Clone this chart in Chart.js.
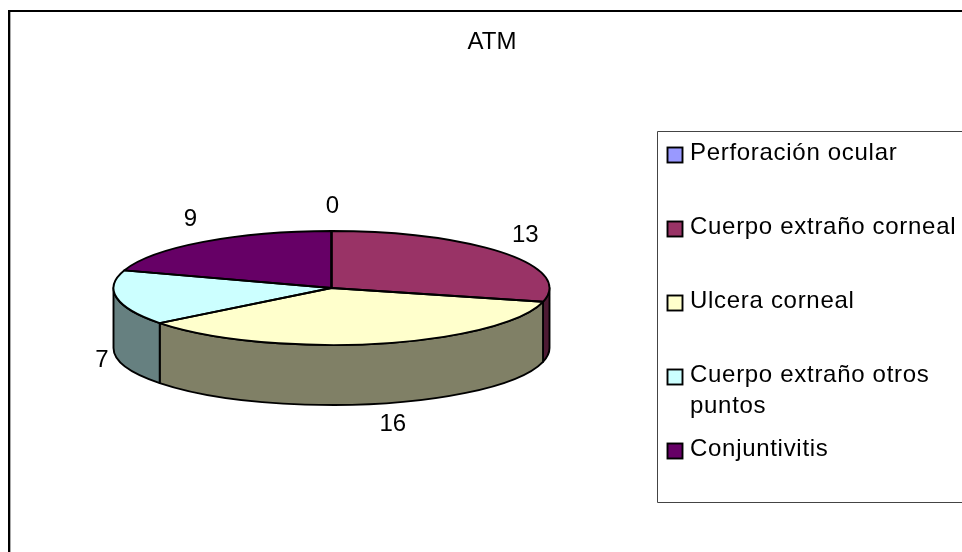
<!DOCTYPE html>
<html>
<head>
<meta charset="utf-8">
<style>
  html, body { margin: 0; padding: 0; background: #fff; }
  canvas { display: block; }
</style>
<script src="https://cdn.jsdelivr.net/npm/chart.js@4"></script>
</head>
<body>
<canvas id="chart" width="962" height="552"></canvas>
<script>
const chartTitle = "ATM";
const categories = ["Perforación ocular", "Cuerpo extraño corneal", "Ulcera corneal", "Cuerpo extraño otros puntos", "Conjuntivitis"];
const values = [0, 13, 16, 7, 9];
const sliceColors = ["#9999FF", "#993366", "#FFFFCC", "#CCFFFF", "#660066"];
const sideColors = ["#4D4D80", "#4D1A33", "#808066", "#668080", "#330033"];

const FONT = '24px "Liberation Sans", Arial, sans-serif';
const TILT = 57 / 218; // squash of the pie into an ellipse
const DEPTH = 60;
const EDGE = 1.9;
const labelNudge = [[1, -25], [22, -18], [16, 21], [-15, 2], [-13, -23]];

function topEdge(ctx, arc, yr) {
  ctx.moveTo(arc.x, arc.y);
  ctx.ellipse(arc.x, arc.y, arc.outerRadius, yr, 0, arc.startAngle, arc.endAngle);
  ctx.closePath();
}

const pie3d = {
  id: "pie3d",
  beforeDatasetsDraw(chart) {
    const ctx = chart.ctx;
    const arcs = chart.getDatasetMeta(0).data;
    ctx.save();
    ctx.lineWidth = EDGE;
    ctx.strokeStyle = "#000";
    ctx.lineJoin = "round";
    // walls: only the part of each slice that faces the viewer (0..PI)
    arcs.forEach((arc, i) => {
      const a = Math.max(arc.startAngle, 0);
      const b = Math.min(arc.endAngle, Math.PI);
      if (b <= a) return;
      const yr = arc.outerRadius * TILT;
      ctx.beginPath();
      ctx.ellipse(arc.x, arc.y, arc.outerRadius, yr, 0, a, b);
      ctx.ellipse(arc.x, arc.y + DEPTH, arc.outerRadius, yr, 0, b, a, true);
      ctx.closePath();
      ctx.fillStyle = sideColors[i];
      ctx.fill();
      ctx.stroke();
    });
    ctx.restore();
    // the library draws the slices themselves, squashed around the pie centre
    const c = arcs[0];
    ctx.save();
    ctx.translate(c.x, c.y);
    ctx.scale(1, TILT);
    ctx.translate(-c.x, -c.y);
  },
  afterDatasetsDraw(chart) {
    const ctx = chart.ctx;
    ctx.restore();
    const arcs = chart.getDatasetMeta(0).data;

    ctx.save();
    ctx.lineWidth = EDGE;
    ctx.strokeStyle = "#000";
    ctx.lineJoin = "round";
    arcs.forEach((arc) => {
      ctx.beginPath();
      topEdge(ctx, arc, arc.outerRadius * TILT);
      ctx.stroke();
    });
    ctx.restore();

    ctx.save();
    ctx.font = FONT;
    ctx.fillStyle = "#000";
    ctx.textAlign = "center";
    ctx.textBaseline = "middle";
    // value labels hang off the middle of each slice's rim
    arcs.forEach((arc, i) => {
      const mid = (arc.startAngle + arc.endAngle) / 2;
      const sin = Math.sin(mid);
      let x = arc.x + arc.outerRadius * Math.cos(mid) + labelNudge[i][0];
      let y = arc.y + arc.outerRadius * TILT * sin + labelNudge[i][1];
      if (sin > 0) y += DEPTH;
      ctx.fillText(String(values[i]), x, y);
    });
    ctx.fillText(chartTitle, 492, 42);
    ctx.restore();
  },
  afterDraw(chart) {
    const ctx = chart.ctx;
    ctx.save();
    // outer frame, runs off the right and bottom of the picture
    ctx.fillStyle = "#000";
    ctx.fillRect(8, 10, 954, 2);
    ctx.fillRect(8, 10, 2, 542);
    ctx.fillStyle = "#aaa";
    ctx.fillRect(10, 12, 1, 540);

    // legend box
    ctx.strokeStyle = "#444";
    ctx.lineWidth = 1;
    ctx.beginPath();
    ctx.moveTo(962, 131.5);
    ctx.lineTo(657.5, 131.5);
    ctx.lineTo(657.5, 502.5);
    ctx.lineTo(962, 502.5);
    ctx.stroke();

    ctx.font = FONT;
    ctx.letterSpacing = "0.7px";
    ctx.textAlign = "left";
    ctx.textBaseline = "alphabetic";
    categories.forEach((name, i) => {
      const top = 147 + i * 74;
      ctx.fillStyle = sliceColors[i];
      ctx.fillRect(667.5, top + 0.5, 15, 15);
      ctx.strokeStyle = "#000";
      ctx.lineWidth = EDGE;
      ctx.strokeRect(667.5, top + 0.5, 15, 15);
      ctx.fillStyle = "#000";
      let line = "";
      let y = top + 13;
      name.split(" ").forEach((word) => {
        const next = line ? line + " " + word : word;
        if (ctx.measureText(next).width > 270) {
          ctx.fillText(line, 690, y);
          y += 31;
          line = word;
        } else {
          line = next;
        }
      });
      ctx.fillText(line, 690, y);
    });
    ctx.restore();
  },
};

new Chart(document.getElementById("chart"), {
  type: "pie",
  data: {
    labels: categories,
    datasets: [{ data: values, backgroundColor: sliceColors, borderWidth: 0 }],
  },
  options: {
    responsive: false,
    animation: false,
    events: [],
    layout: { padding: { left: 113, right: 412, top: 70, bottom: 46 } },
    plugins: { legend: { display: false }, title: { display: false }, tooltip: { enabled: false } },
  },
  plugins: [pie3d],
});
</script>
</body>
</html>
